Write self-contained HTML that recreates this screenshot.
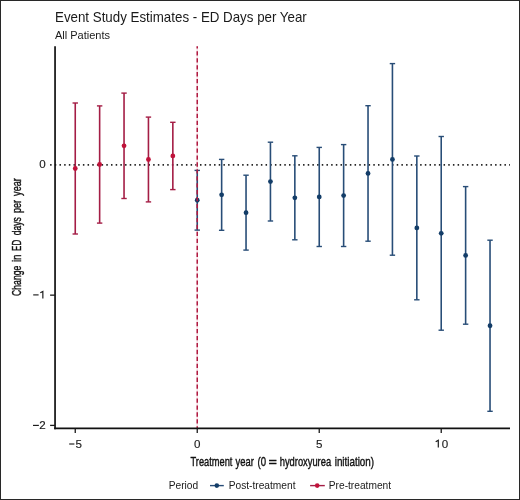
<!DOCTYPE html>
<html><head><meta charset="utf-8"><style>
html,body{margin:0;padding:0;background:#fff;}
body{width:520px;height:500px;overflow:hidden;position:relative;}
svg{position:absolute;left:0;top:0;filter:blur(0.3px);}
text{font-family:"Liberation Sans",sans-serif;}
.tk{font-size:11.6px;fill:#1c1c1c;stroke:#1c1c1c;stroke-width:0.15px;}
</style></head><body>
<svg width="520" height="500" viewBox="0 0 520 500">
<rect x="0" y="0" width="520" height="500" fill="#fff"/>
<text transform="translate(55,21.8) scale(0.953,1)" style="font-size:14px;fill:#1a1a1a">Event Study Estimates - ED Days per Year</text>
<text x="55" y="38.8" style="font-size:11px;fill:#1a1a1a">All Patients</text>
<line x1="50.1" y1="164.90" x2="510.00" y2="164.90" stroke="#262626" stroke-width="1.6" stroke-dasharray="1.5 3.184"/>
<line x1="197.24" y1="46.20" x2="197.24" y2="428.45" stroke="#f6dde4" stroke-width="1.6"/>
<line x1="75.25" y1="103.00" x2="75.25" y2="234.00" stroke="#a41d45" stroke-width="1.6"/>
<line x1="72.55" y1="103.00" x2="77.95" y2="103.00" stroke="#a41d45" stroke-width="1.4"/>
<line x1="72.55" y1="234.00" x2="77.95" y2="234.00" stroke="#a41d45" stroke-width="1.4"/>
<line x1="99.64" y1="105.90" x2="99.64" y2="223.10" stroke="#a41d45" stroke-width="1.6"/>
<line x1="96.94" y1="105.90" x2="102.34" y2="105.90" stroke="#a41d45" stroke-width="1.4"/>
<line x1="96.94" y1="223.10" x2="102.34" y2="223.10" stroke="#a41d45" stroke-width="1.4"/>
<line x1="124.04" y1="93.10" x2="124.04" y2="198.50" stroke="#a41d45" stroke-width="1.6"/>
<line x1="121.34" y1="93.10" x2="126.74" y2="93.10" stroke="#a41d45" stroke-width="1.4"/>
<line x1="121.34" y1="198.50" x2="126.74" y2="198.50" stroke="#a41d45" stroke-width="1.4"/>
<line x1="148.44" y1="117.10" x2="148.44" y2="201.90" stroke="#a41d45" stroke-width="1.6"/>
<line x1="145.74" y1="117.10" x2="151.14" y2="117.10" stroke="#a41d45" stroke-width="1.4"/>
<line x1="145.74" y1="201.90" x2="151.14" y2="201.90" stroke="#a41d45" stroke-width="1.4"/>
<line x1="172.84" y1="122.30" x2="172.84" y2="189.60" stroke="#a41d45" stroke-width="1.6"/>
<line x1="170.14" y1="122.30" x2="175.54" y2="122.30" stroke="#a41d45" stroke-width="1.4"/>
<line x1="170.14" y1="189.60" x2="175.54" y2="189.60" stroke="#a41d45" stroke-width="1.4"/>
<line x1="197.24" y1="170.40" x2="197.24" y2="230.10" stroke="#284d77" stroke-width="1.6"/>
<line x1="194.54" y1="170.40" x2="199.94" y2="170.40" stroke="#284d77" stroke-width="1.4"/>
<line x1="194.54" y1="230.10" x2="199.94" y2="230.10" stroke="#284d77" stroke-width="1.4"/>
<line x1="221.64" y1="159.40" x2="221.64" y2="230.30" stroke="#284d77" stroke-width="1.6"/>
<line x1="218.94" y1="159.40" x2="224.34" y2="159.40" stroke="#284d77" stroke-width="1.4"/>
<line x1="218.94" y1="230.30" x2="224.34" y2="230.30" stroke="#284d77" stroke-width="1.4"/>
<line x1="246.04" y1="175.20" x2="246.04" y2="250.10" stroke="#284d77" stroke-width="1.6"/>
<line x1="243.34" y1="175.20" x2="248.74" y2="175.20" stroke="#284d77" stroke-width="1.4"/>
<line x1="243.34" y1="250.10" x2="248.74" y2="250.10" stroke="#284d77" stroke-width="1.4"/>
<line x1="270.44" y1="142.20" x2="270.44" y2="221.00" stroke="#284d77" stroke-width="1.6"/>
<line x1="267.74" y1="142.20" x2="273.14" y2="142.20" stroke="#284d77" stroke-width="1.4"/>
<line x1="267.74" y1="221.00" x2="273.14" y2="221.00" stroke="#284d77" stroke-width="1.4"/>
<line x1="294.84" y1="155.80" x2="294.84" y2="239.80" stroke="#284d77" stroke-width="1.6"/>
<line x1="292.14" y1="155.80" x2="297.54" y2="155.80" stroke="#284d77" stroke-width="1.4"/>
<line x1="292.14" y1="239.80" x2="297.54" y2="239.80" stroke="#284d77" stroke-width="1.4"/>
<line x1="319.24" y1="147.40" x2="319.24" y2="246.50" stroke="#284d77" stroke-width="1.6"/>
<line x1="316.54" y1="147.40" x2="321.94" y2="147.40" stroke="#284d77" stroke-width="1.4"/>
<line x1="316.54" y1="246.50" x2="321.94" y2="246.50" stroke="#284d77" stroke-width="1.4"/>
<line x1="343.63" y1="144.60" x2="343.63" y2="246.50" stroke="#284d77" stroke-width="1.6"/>
<line x1="340.93" y1="144.60" x2="346.33" y2="144.60" stroke="#284d77" stroke-width="1.4"/>
<line x1="340.93" y1="246.50" x2="346.33" y2="246.50" stroke="#284d77" stroke-width="1.4"/>
<line x1="368.03" y1="105.70" x2="368.03" y2="241.20" stroke="#284d77" stroke-width="1.6"/>
<line x1="365.33" y1="105.70" x2="370.73" y2="105.70" stroke="#284d77" stroke-width="1.4"/>
<line x1="365.33" y1="241.20" x2="370.73" y2="241.20" stroke="#284d77" stroke-width="1.4"/>
<line x1="392.43" y1="63.60" x2="392.43" y2="255.20" stroke="#284d77" stroke-width="1.6"/>
<line x1="389.73" y1="63.60" x2="395.13" y2="63.60" stroke="#284d77" stroke-width="1.4"/>
<line x1="389.73" y1="255.20" x2="395.13" y2="255.20" stroke="#284d77" stroke-width="1.4"/>
<line x1="416.83" y1="156.00" x2="416.83" y2="299.80" stroke="#284d77" stroke-width="1.6"/>
<line x1="414.13" y1="156.00" x2="419.53" y2="156.00" stroke="#284d77" stroke-width="1.4"/>
<line x1="414.13" y1="299.80" x2="419.53" y2="299.80" stroke="#284d77" stroke-width="1.4"/>
<line x1="441.23" y1="136.50" x2="441.23" y2="330.20" stroke="#284d77" stroke-width="1.6"/>
<line x1="438.53" y1="136.50" x2="443.93" y2="136.50" stroke="#284d77" stroke-width="1.4"/>
<line x1="438.53" y1="330.20" x2="443.93" y2="330.20" stroke="#284d77" stroke-width="1.4"/>
<line x1="465.63" y1="186.60" x2="465.63" y2="324.20" stroke="#284d77" stroke-width="1.6"/>
<line x1="462.93" y1="186.60" x2="468.33" y2="186.60" stroke="#284d77" stroke-width="1.4"/>
<line x1="462.93" y1="324.20" x2="468.33" y2="324.20" stroke="#284d77" stroke-width="1.4"/>
<line x1="490.03" y1="240.20" x2="490.03" y2="411.30" stroke="#284d77" stroke-width="1.6"/>
<line x1="487.33" y1="240.20" x2="492.73" y2="240.20" stroke="#284d77" stroke-width="1.4"/>
<line x1="487.33" y1="411.30" x2="492.73" y2="411.30" stroke="#284d77" stroke-width="1.4"/>
<circle cx="75.25" cy="168.50" r="2.4" fill="#c0123a"/>
<circle cx="99.64" cy="164.50" r="2.4" fill="#c0123a"/>
<circle cx="124.04" cy="145.80" r="2.4" fill="#c0123a"/>
<circle cx="148.44" cy="159.50" r="2.4" fill="#c0123a"/>
<circle cx="172.84" cy="155.95" r="2.4" fill="#c0123a"/>
<circle cx="197.24" cy="200.25" r="2.4" fill="#133d68"/>
<circle cx="221.64" cy="194.85" r="2.4" fill="#133d68"/>
<circle cx="246.04" cy="212.65" r="2.4" fill="#133d68"/>
<circle cx="270.44" cy="181.60" r="2.4" fill="#133d68"/>
<circle cx="294.84" cy="197.80" r="2.4" fill="#133d68"/>
<circle cx="319.24" cy="196.95" r="2.4" fill="#133d68"/>
<circle cx="343.63" cy="195.55" r="2.4" fill="#133d68"/>
<circle cx="368.03" cy="173.45" r="2.4" fill="#133d68"/>
<circle cx="392.43" cy="159.40" r="2.4" fill="#133d68"/>
<circle cx="416.83" cy="227.90" r="2.4" fill="#133d68"/>
<circle cx="441.23" cy="233.35" r="2.4" fill="#133d68"/>
<circle cx="465.63" cy="255.40" r="2.4" fill="#133d68"/>
<circle cx="490.03" cy="325.75" r="2.4" fill="#133d68"/>
<line x1="197.24" y1="46.20" x2="197.24" y2="428.45" stroke="#b01a40" stroke-width="1.5" stroke-dasharray="4.3 2.644" stroke-dashoffset="1.9"/>
<line x1="55.05" y1="46.20" x2="55.05" y2="429.30" stroke="#111" stroke-width="1.7"/>
<line x1="54.20" y1="428.45" x2="510.00" y2="428.45" stroke="#111" stroke-width="1.7"/>
<line x1="50.1" y1="295.15" x2="55.05" y2="295.15" stroke="#1a1a1a" stroke-width="1.3"/>
<line x1="50.1" y1="425.40" x2="55.05" y2="425.40" stroke="#1a1a1a" stroke-width="1.3"/>
<line x1="75.25" y1="428.45" x2="75.25" y2="433.0" stroke="#1a1a1a" stroke-width="1.3"/>
<line x1="197.24" y1="428.45" x2="197.24" y2="433.0" stroke="#1a1a1a" stroke-width="1.3"/>
<line x1="319.24" y1="428.45" x2="319.24" y2="433.0" stroke="#1a1a1a" stroke-width="1.3"/>
<line x1="441.23" y1="428.45" x2="441.23" y2="433.0" stroke="#1a1a1a" stroke-width="1.3"/>
<text x="45.7" y="168.3" text-anchor="end" class="tk">0</text>
<line x1="33.2" y1="294.9" x2="38.6" y2="294.9" stroke="#1c1c1c" stroke-width="1.15"/>
<path d="M40.3,292.8 L42.85,291.40 L42.85,298.4" fill="none" stroke="#1c1c1c" stroke-width="1.2" stroke-linejoin="miter"/>
<line x1="33.0" y1="425.4" x2="38.9" y2="425.4" stroke="#1c1c1c" stroke-width="1.15"/>
<text x="45.7" y="428.8" text-anchor="end" class="tk">2</text>
<line x1="69.2" y1="444.0" x2="74.4" y2="444.0" stroke="#1c1c1c" stroke-width="1.15"/>
<text x="75.4" y="447.7" class="tk">5</text>
<text x="197.2" y="447.7" text-anchor="middle" class="tk">0</text>
<text x="319.3" y="447.7" text-anchor="middle" class="tk">5</text>
<path d="M435.7,441.8 L438.3,440.20 L438.3,447.4" fill="none" stroke="#1c1c1c" stroke-width="1.2" stroke-linejoin="miter"/>
<text x="441.7" y="447.7" class="tk">0</text>
<text transform="translate(21.4,295.88) rotate(-90) scale(0.6327,1)" style="font-size:13.6px;fill:#111;stroke:#111;stroke-width:0.4px">Change</text>
<text transform="translate(21.4,262.09) rotate(-90) scale(0.7296,1)" style="font-size:13.6px;fill:#111;stroke:#111;stroke-width:0.4px">in</text>
<text transform="translate(21.4,250.89) rotate(-90) scale(0.5894,1)" style="font-size:13.6px;fill:#111;stroke:#111;stroke-width:0.4px">ED</text>
<text transform="translate(21.4,235.29) rotate(-90) scale(0.6287,1)" style="font-size:13.6px;fill:#111;stroke:#111;stroke-width:0.4px">days</text>
<text transform="translate(21.4,213.04) rotate(-90) scale(0.6650,1)" style="font-size:13.6px;fill:#111;stroke:#111;stroke-width:0.4px">per</text>
<text transform="translate(21.4,195.90) rotate(-90) scale(0.6664,1)" style="font-size:13.6px;fill:#111;stroke:#111;stroke-width:0.4px">year</text>
<text transform="translate(190.52,466.3) scale(0.7135,1)" style="font-size:13.0px;fill:#111;stroke:#111;stroke-width:0.4px">Treatment</text>
<text transform="translate(235.60,466.3) scale(0.7252,1)" style="font-size:13.0px;fill:#111;stroke:#111;stroke-width:0.4px">year</text>
<text transform="translate(257.47,466.3) scale(0.7400,1)" style="font-size:13.0px;fill:#111;stroke:#111;stroke-width:0.4px">(0</text>
<text transform="translate(268.53,466.3) scale(1.1102,1)" style="font-size:13.0px;fill:#111;stroke:#111;stroke-width:0.4px">=</text>
<text transform="translate(279.70,466.3) scale(0.7196,1)" style="font-size:13.0px;fill:#111;stroke:#111;stroke-width:0.4px">hydroxyurea</text>
<text transform="translate(334.71,466.3) scale(0.7583,1)" style="font-size:13.0px;fill:#111;stroke:#111;stroke-width:0.4px">initiation)</text>
<text x="168.7" y="489.2" style="font-size:10.2px;fill:#1a1a1a">Period</text>
<line x1="210" y1="485.6" x2="223.8" y2="485.6" stroke="#284d77" stroke-width="1.4"/>
<circle cx="216.8" cy="485.6" r="2.3" fill="#133d68"/>
<text x="228.7" y="489.2" style="font-size:10.2px;fill:#1a1a1a">Post-treatment</text>
<line x1="310.1" y1="485.6" x2="324.8" y2="485.6" stroke="#a41d45" stroke-width="1.4"/>
<circle cx="317.2" cy="485.6" r="2.3" fill="#c0123a"/>
<text x="328.8" y="489.2" style="font-size:10.2px;fill:#1a1a1a">Pre-treatment</text>
<rect x="0.5" y="0.5" width="519" height="499" fill="none" stroke="#282828" stroke-width="1"/>
</svg>
</body></html>
